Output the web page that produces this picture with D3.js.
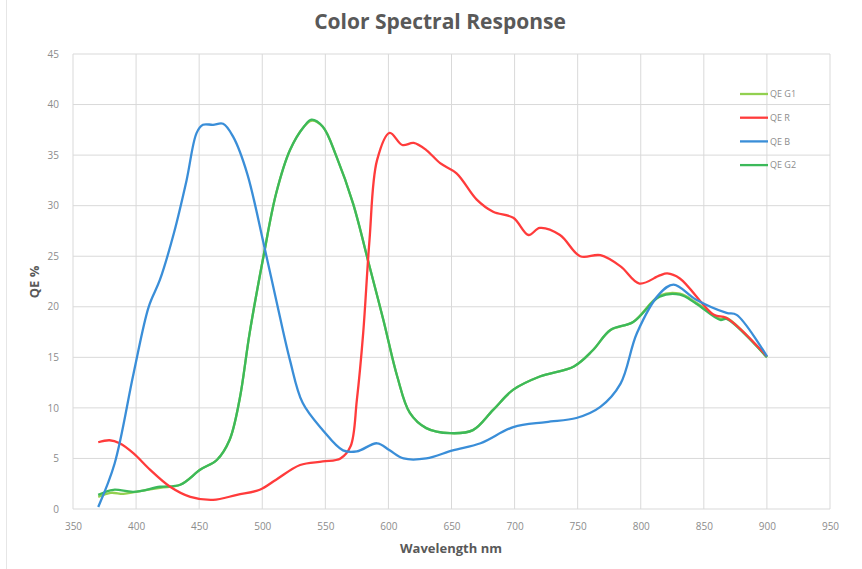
<!DOCTYPE html>
<html>
<head>
<meta charset="utf-8">
<script src="https://cdn.jsdelivr.net/npm/d3@7"></script>
<style>
  body { margin: 0; background: #fff; }
  text { font-family: "Open Sans", "Liberation Sans", sans-serif; }
</style>
</head>
<body>
<div id="main"></div>
<script>
// wavelength (nm) / QE (%) pairs
const wlB = [370, 383, 398, 410, 419, 430, 440, 448, 453, 461, 469, 477, 488, 501, 511, 522, 532, 548, 564, 575, 591, 601, 612, 630, 651, 673, 699, 725, 749, 768, 784, 797, 815, 826, 844, 868, 876, 900];
const qeB = [0.2, 4.5, 13.4, 20, 22.7, 27.3, 32.5, 37.2, 38, 38, 38.1, 36.8, 33.2, 26.3, 20.7, 14.7, 10.5, 7.8, 5.8, 5.7, 6.5, 5.8, 5.0, 5.0, 5.8, 6.5, 8.1, 8.6, 9.0, 10.1, 12.4, 17.4, 21.3, 22.2, 20.7, 19.4, 19.2, 15.1];

const wlR = [370, 379, 387, 398, 411, 427, 443, 461, 480, 498, 511, 530, 548, 562, 570, 575, 580, 585, 591, 601, 611, 620, 630, 641, 654, 670, 683, 699, 711, 720, 736, 752, 768, 784, 799, 815, 821, 831, 858, 868, 900];
const qeR = [6.6, 6.8, 6.5, 5.5, 3.9, 2.2, 1.2, 0.9, 1.4, 1.9, 2.9, 4.35, 4.7, 5.0, 6.2, 10.8, 17.4, 26.6, 34.5, 37.2, 36.0, 36.2, 35.5, 34.2, 33.2, 30.6, 29.4, 28.8, 27.1, 27.8, 27.1, 25.0, 25.1, 24.0, 22.3, 23.1, 23.3, 22.8, 19.2, 18.9, 15.1];

const wlG2 = [370, 382, 398, 419, 435, 451, 464, 474, 482, 490, 501, 511, 522, 533, 539, 548, 559, 572, 585, 596, 607, 617, 630, 649, 667, 683, 699, 720, 747, 762, 776, 794, 815, 831, 844, 863, 868, 900];
const qeG2 = [1.4, 1.9, 1.7, 2.2, 2.4, 3.9, 4.85, 6.8, 10.8, 17.4, 25, 31.2, 35.5, 37.8, 38.5, 37.8, 34.8, 30.2, 24, 18.7, 13.1, 9.5, 8.0, 7.5, 7.8, 9.8, 11.8, 13.1, 14.1, 15.7, 17.7, 18.5, 21.0, 21.2, 20.3, 18.7, 18.8, 15.0];

const wlG1 = [370, 380, 390, 400, 419, 435, 451, 464, 474, 482, 490, 501, 511, 522, 533, 539, 548, 559, 572, 585, 596, 607, 617, 630, 649, 667, 683, 699, 720, 747, 762, 776, 794, 815, 831, 844, 863, 868, 900];
const qeG1 = [1.2, 1.6, 1.5, 1.7, 2.1, 2.4, 3.9, 4.85, 6.8, 10.8, 17.4, 25, 31.2, 35.5, 37.8, 38.4, 37.8, 34.8, 30.2, 24, 18.7, 13.1, 9.5, 8.0, 7.5, 7.8, 9.8, 11.8, 13.1, 14.1, 15.7, 17.7, 18.5, 21.1, 21.3, 20.4, 18.8, 18.9, 15.0];

const xTicks = [350, 400, 450, 500, 550, 600, 650, 700, 750, 800, 850, 900, 950];
const yTicks = [0, 5, 10, 15, 20, 25, 30, 35, 40, 45];

const series = [
  {name: 'QE G1', color: '#92d050', wl: wlG1, qe: qeG1},
  {name: 'QE R', color: '#ff3b3b', wl: wlR, qe: qeR},
  {name: 'QE B', color: '#3a8ed8', wl: wlB, qe: qeB},
  {name: 'QE G2', color: '#3cb95a', wl: wlG2, qe: qeG2}
];
const drawOrder = [0, 3, 1, 2];

const width = 862, height = 569;
const svg = d3.select('#main').append('svg').attr('width', width).attr('height', height);

// faint chart border
svg.append('rect').attr('x', 6.5).attr('y', -2).attr('width', 860).attr('height', 575)
  .attr('fill', 'none').attr('stroke', '#e6e6e6');

const x = d3.scaleLinear().domain([350, 950]).range([73, 830]);
const y = d3.scaleLinear().domain([0, 45]).range([509, 54]);

// grid
svg.append('g').selectAll('line').data(yTicks).join('line')
  .attr('x1', x(350)).attr('x2', x(950))
  .attr('y1', d => y(d)).attr('y2', d => y(d))
  .attr('stroke', '#d9d9d9').attr('stroke-width', 1);
svg.append('g').selectAll('line').data(xTicks).join('line')
  .attr('x1', d => x(d)).attr('x2', d => x(d))
  .attr('y1', y(0)).attr('y2', y(45))
  .attr('stroke', '#d9d9d9').attr('stroke-width', 1);

// axes (labels only)
const xAxis = svg.append('g').attr('transform', `translate(0,${y(0)})`)
  .call(d3.axisBottom(x).tickValues(xTicks).tickSize(0).tickPadding(14));
const yAxis = svg.append('g').attr('transform', `translate(${x(350)},0)`)
  .call(d3.axisLeft(y).tickValues(yTicks).tickSize(0).tickPadding(14));
[xAxis, yAxis].forEach(a => {
  a.select('.domain').remove();
  a.selectAll('text').attr('fill', '#8c8c8c').style('font-size', '10px')
    .style('font-family', '"Open Sans", sans-serif');
});

// curves
const line = d3.line().x(d => x(d[0])).y(d => y(d[1])).curve(d3.curveCatmullRom.alpha(0.5));
drawOrder.forEach(i => {
  const s = series[i];
  svg.append('path').datum(d3.zip(s.wl, s.qe))
    .attr('d', line).attr('fill', 'none')
    .attr('stroke', s.color).attr('stroke-width', 2.3)
    .attr('stroke-linejoin', 'round');
});

// legend
const leg = svg.append('g').attr('transform', 'translate(740,94)');
series.forEach((s, i) => {
  const g = leg.append('g').attr('transform', `translate(0,${i * 23.7})`);
  g.append('line').attr('x1', 0).attr('x2', 28).attr('stroke', s.color).attr('stroke-width', 2.3);
  g.append('text').attr('x', 30).attr('dy', '0.35em').text(s.name)
    .attr('fill', '#8c8c8c').style('font-size', '9px')
    .style('font-family', '"Open Sans", sans-serif');
});

// titles
svg.append('text').attr('x', 440).attr('y', 29).attr('text-anchor', 'middle')
  .attr('fill', '#595959').style('font-size', '21px').style('font-weight', 'bold')
  .style('font-family', '"Open Sans", sans-serif')
  .text('Color Spectral Response');
svg.append('text').attr('x', 451).attr('y', 553).attr('text-anchor', 'middle')
  .attr('fill', '#595959').style('font-size', '13px').style('font-weight', 'bold')
  .style('font-family', '"Open Sans", sans-serif')
  .text('Wavelength nm');
svg.append('text').attr('transform', 'translate(39,282) rotate(-90)').attr('text-anchor', 'middle')
  .attr('fill', '#595959').style('font-size', '13px').style('font-weight', 'bold')
  .style('font-family', '"Open Sans", sans-serif')
  .text('QE %');
</script>
</body>
</html>
